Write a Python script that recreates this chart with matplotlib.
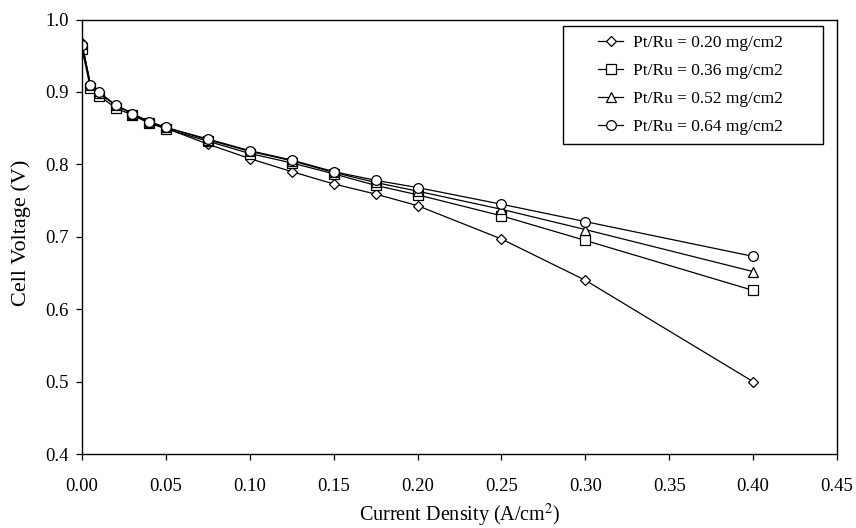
import matplotlib
matplotlib.use("Agg")
import matplotlib.pyplot as plt
from matplotlib.patches import Rectangle

plt.rcParams["font.family"] = ["Liberation Serif", "DejaVu Serif"]
plt.rcParams["mathtext.fontset"] = "stix"

# Current density (A/cm2)
current = [0, 0.005, 0.01, 0.02, 0.03, 0.04, 0.05, 0.075, 0.1, 0.125,
           0.15, 0.175, 0.2, 0.25, 0.3, 0.4]

# Cell voltage (V) for each catalyst loading
v_020 = [0.968, 0.910, 0.898, 0.882, 0.870, 0.858, 0.850, 0.828, 0.808,
         0.790, 0.773, 0.759, 0.743, 0.697, 0.640, 0.500]
v_036 = [0.960, 0.905, 0.895, 0.878, 0.868, 0.857, 0.849, 0.832, 0.815,
         0.802, 0.787, 0.771, 0.758, 0.729, 0.695, 0.626]
v_052 = [0.966, 0.910, 0.899, 0.882, 0.870, 0.859, 0.851, 0.834, 0.818,
         0.805, 0.789, 0.775, 0.763, 0.738, 0.710, 0.652]
v_064 = [0.965, 0.910, 0.900, 0.882, 0.870, 0.859, 0.851, 0.835, 0.819,
         0.806, 0.790, 0.778, 0.768, 0.745, 0.721, 0.673]

labels = ["Pt/Ru = 0.20 mg/cm2", "Pt/Ru = 0.36 mg/cm2",
          "Pt/Ru = 0.52 mg/cm2", "Pt/Ru = 0.64 mg/cm2"]
markers = ["D", "s", "^", "o"]
sizes = [5, 7, 7, 7]

xticks = [0.05 * i for i in range(10)]
yticks = [0.4, 0.5, 0.6, 0.7, 0.8, 0.9, 1.0]

fig = plt.figure(figsize=(8.56, 5.28), dpi=100)
ax = fig.add_axes([0.0958, 0.140, 0.882, 0.823])

for v, lab, m, ms in zip([v_020, v_036, v_052, v_064], labels, markers, sizes):
    ax.plot(current, v, color="black", linewidth=0.9, marker=m,
            markersize=ms, markerfacecolor="white", markeredgecolor="black",
            markeredgewidth=0.9, label=lab)

ax.set_xlim(0, 0.45)
ax.set_ylim(0.4, 1.0)
ax.set_xticks(xticks)
ax.set_xticklabels([f"{t:.2f}" for t in xticks])
ax.set_yticks(yticks)
ax.set_yticklabels([f"{t:.1f}" for t in yticks])
ax.tick_params(direction="out", length=4.5, width=0.9, labelsize=13.5,
               color="black")
ax.tick_params(axis="x", pad=12.5)
ax.tick_params(axis="y", pad=5)
for s in ax.spines.values():
    s.set_linewidth(1.0)

ax.set_xlabel("Current Density (A/cm$^2$)", fontsize=14.5)
ax.set_ylabel("Cell Voltage (V)", fontsize=16)
ax.xaxis.set_label_coords(0.5, -0.111)
ax.yaxis.set_label_coords(-0.068, 0.51)

# legend box drawn separately so the entries sit centred in it
ax.add_patch(Rectangle((0.637, 0.713), 0.344, 0.272, transform=ax.transAxes,
                       facecolor="white", edgecolor="black", linewidth=1.0,
                       zorder=4))
leg = ax.legend(loc="center", bbox_to_anchor=(0.806, 0.849), frameon=False,
                fontsize=12.5, handlelength=1.45, handletextpad=0.55,
                labelspacing=0.68, borderpad=0, borderaxespad=0)
leg.set_zorder(5)

fig.savefig("out.png", dpi=100)
